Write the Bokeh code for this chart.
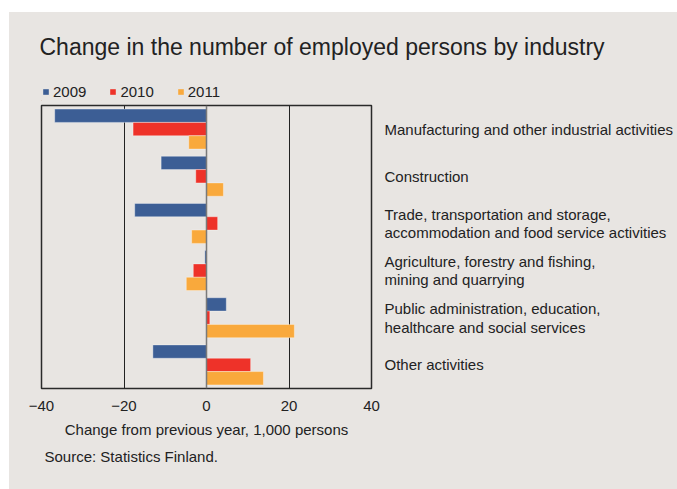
from bokeh.plotting import figure
from bokeh.models import (FactorRange, ColumnDataSource, Legend, LegendItem,
                          Span, FixedTicker, Title, Spacer)
from bokeh.layouts import column, row
from bokeh.core.properties import value
from bokeh.transform import dodge
from bokeh.embed import file_html
from bokeh.resources import INLINE

# ---- data ----
categories = [
    "Manufacturing and other industrial activities",
    "Construction",
    "Trade, transportation and storage,\naccommodation and food service activities",
    "Agriculture, forestry and fishing,\nmining and quarrying",
    "Public administration, education,\nhealthcare and social services",
    "Other activities",
]
years = ["2009", "2010", "2011"]
v2009 = [-36.8, -11.0, -17.4, -0.4, 4.8, -13.0]
v2010 = [-17.8, -2.6, 2.7, -3.2, 0.8, 10.7]
v2011 = [-4.3, 4.1, -3.6, -4.9, 21.3, 13.8]
x_ticks = [-40, -20, 0, 20, 40]

title_text = "Change in the number of employed persons by industry"
x_label = "Change from previous year, 1,000 persons"
source_text = "Source: Statistics Finland."

# ---- style ----
BG = "#e8e5e2"
TXT = "#222222"
FONT = "Liberation Sans"
colors = ["#3c5e95", "#ee3229", "#f9a93c"]
bar_h = 0.2825
offsets = [bar_h, 0.0, -bar_h]
W = 668
BL, BR = 32, 306

src = ColumnDataSource(dict(cat=categories, v2009=v2009, v2010=v2010, v2011=v2011))

# ---- header figure: title + legend ----
head = figure(width=W, height=76, x_range=(0, 1), y_range=(0, 1),
              x_axis_location=None, y_axis_location=None,
              output_backend="svg", toolbar_location=None,
              min_border_left=BL, min_border_right=BR,
              min_border_top=0, min_border_bottom=2,
              background_fill_color=BG, border_fill_color=BG,
              outline_line_color=BG, outline_line_width=2)
head.xgrid.grid_line_color = None
head.ygrid.grid_line_color = None

head.title.text = title_text
head.title.align = "left"
head.title.offset = -2
head.title.text_font = FONT
head.title.text_font_size = "23px"
head.title.text_font_style = "normal"
head.title.text_color = TXT

items = []
for yr, col in zip(years, colors):
    # legend swatch proxies (zero-size, outside the visible range)
    r = head.hbar(y=[-1], left=[-1], right=[-1], height=[0], fill_color=col,
                  line_color=None)
    items.append(LegendItem(label=value(yr), renderers=[r]))

legend = Legend(items=items, orientation="horizontal", location=(1, 0),
                background_fill_alpha=0, border_line_color=None,
                padding=0, margin=0, spacing=23,
                glyph_width=7, glyph_height=7, label_standoff=4,
                label_height=15,
                label_text_font=FONT, label_text_font_size="15px",
                label_text_color=TXT)
head.add_layout(legend)

# ---- main chart ----
fig = figure(width=W, height=387,
             y_range=FactorRange(factors=list(reversed(categories)), range_padding=0),
             x_range=(x_ticks[0], x_ticks[-1]),
             output_backend="svg", toolbar_location=None,
             y_axis_location="right",
             min_border_left=BL, min_border_right=BR,
             min_border_top=3, min_border_bottom=101,
             background_fill_color=BG, border_fill_color=BG,
             outline_line_color="#2a2a2a", outline_line_width=1.5)

for yr, col, off in zip(years, colors, offsets):
    fig.hbar(y=dodge("cat", off, range=fig.y_range), left=0, right="v" + yr,
             height=bar_h, source=src, fill_color=col,
             line_color="white", line_alpha=0.35, line_width=1)

xa = fig.xaxis[0]
xa.ticker = FixedTicker(ticks=x_ticks)
xa.axis_line_color = None
xa.major_tick_line_color = None
xa.minor_tick_line_color = None
xa.major_tick_out = 0
xa.major_tick_in = 0
xa.major_label_text_font = FONT
xa.major_label_text_font_size = "15px"
xa.major_label_text_color = TXT
xa.major_label_standoff = 12
xa.axis_label = x_label
xa.axis_label_text_font = FONT
xa.axis_label_text_font_size = "15px"
xa.axis_label_text_font_style = "normal"
xa.axis_label_text_color = TXT
xa.axis_label_standoff = 7

fig.xgrid.ticker = FixedTicker(ticks=x_ticks)
fig.xgrid.grid_line_color = "#222222"
fig.xgrid.grid_line_width = 1
fig.ygrid.grid_line_color = None

ya = fig.yaxis[0]
ya.axis_line_color = None
ya.major_tick_line_color = None
ya.minor_tick_line_color = None
ya.major_tick_out = 0
ya.major_tick_in = 0
ya.major_label_text_font = FONT
ya.major_label_text_font_size = "15px"
ya.major_label_text_line_height = 1.1
ya.major_label_text_color = TXT
ya.major_label_standoff = 13

fig.add_layout(Span(location=0, dimension="height", line_color="#7a7a7a",
                    line_width=1.5, level="overlay"))

fig.add_layout(Title(text=source_text, align="left", offset=3, text_font=FONT,
                     text_font_size="15px", text_font_style="normal",
                     text_color=TXT), "below")

top_pad = Spacer(width=W, height=14, styles={"background-color": BG})
panel = column(top_pad, head, fig, styles={"background-color": BG})
p = column(Spacer(height=12), row(Spacer(width=9), panel))

open("out.html", "w").write(file_html(p, INLINE))
